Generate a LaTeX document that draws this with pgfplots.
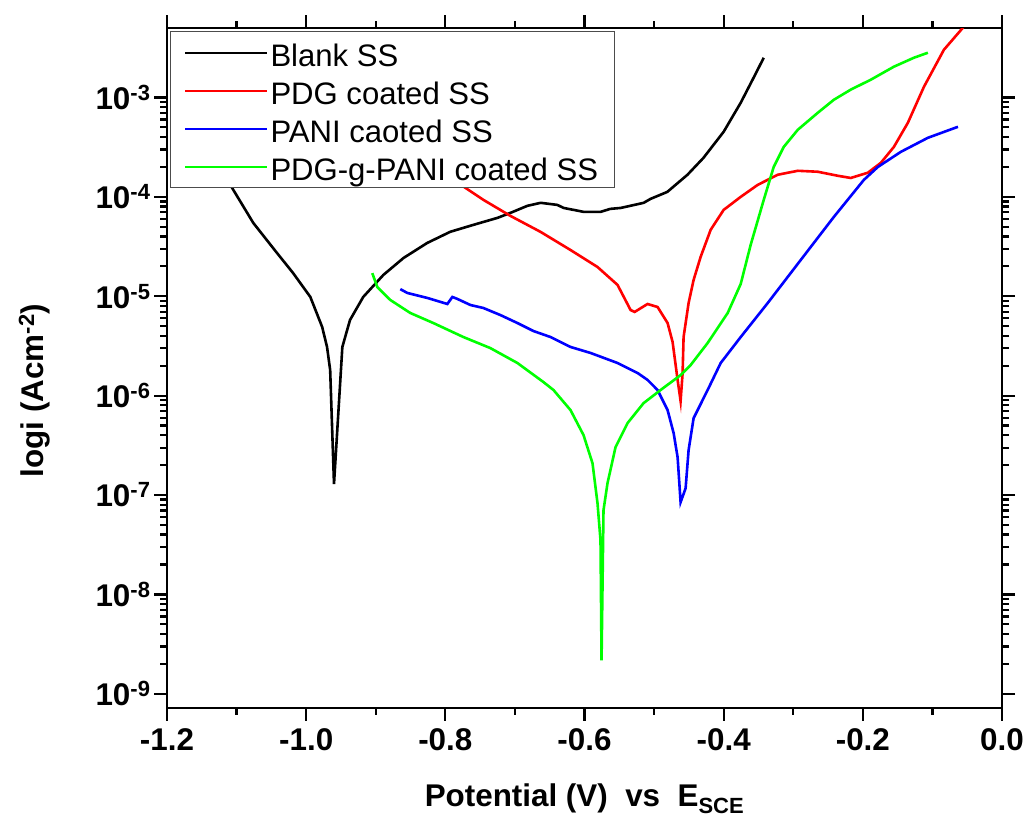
\documentclass[border=0pt]{standalone}
\usepackage{pgfplots}
\pgfplotsset{compat=1.18}
\usepackage{fontspec}
\setmainfont{Liberation Sans}
\begin{document}
\begin{tikzpicture}
\begin{axis}[
  scale only axis, width=835bp, height=680bp,
  xmin=-1.2, xmax=0, ymode=log, ymin=7.2e-10, ymax=5e-3,
  xtick={-1.2,-1.0,-0.8,-0.6,-0.4,-0.2,0},
  xticklabels={-1.2,-1.0,-0.8,-0.6,-0.4,-0.2,0.0},
  minor x tick num=1,
  ytick={1e-9,1e-8,1e-7,1e-6,1e-5,1e-4,1e-3},
  yticklabels={10\textsuperscript{-9},10\textsuperscript{-8},10\textsuperscript{-7},10\textsuperscript{-6},10\textsuperscript{-5},10\textsuperscript{-4},10\textsuperscript{-3}},
  tick align=outside, tick pos=both,
  major tick length=13bp, minor tick length=7bp,
  tick style={black, line width=2.2bp},
  axis line style={line width=2.6bp},
  tick label style={font=\fontsize{31.5}{36}\selectfont\bfseries},
  xticklabel style={yshift=-4bp},
  label style={font=\fontsize{31.5}{36}\selectfont\bfseries},
  xlabel={Potential (V)\ \ vs\ \ E\textsubscript{SCE}},
  xlabel style={at={(axis description cs:0.5,-0.145)}, anchor=base},
  ylabel={logi (Acm\textsuperscript{-2})},
  ylabel style={at={(axis description cs:-0.1485,0.467)}, anchor=base},
  legend cell align=left,
  legend style={at={(0.003,0.995)}, anchor=north west, draw=black!70, line width=0.8bp, fill=white,
    font=\fontsize{31.2}{36}\selectfont, inner xsep=14bp, inner ysep=2bp, row sep=0bp,
    nodes={inner sep=2bp, text height=31bp, text depth=3bp}},
  legend image code/.code={\path (0bp,0bp) -- (82bp,0bp); \draw[#1, line width=2.6bp] (6bp,0bp) -- (77bp,0bp);},
]
\addplot[black, line width=2.6bp] coordinates {
(-1.145,7.52e-4) (-1.1065,1.233e-4) (-1.076,5.47e-5) (-1.042,2.73e-5) (-1.019,1.72e-5)
(-0.994,9.84e-6) (-0.977,4.91e-6) (-0.970,3.09e-6) (-0.9655,1.81e-6) (-0.960,1.29e-7)
(-0.948,3.09e-6) (-0.937,5.77e-6) (-0.918,9.84e-6) (-0.889,1.64e-5) (-0.860,2.43e-5)
(-0.826,3.44e-5) (-0.793,4.45e-5) (-0.760,5.22e-5) (-0.725,6.15e-5) (-0.7065,6.90e-5)
(-0.682,8.13e-5) (-0.663,8.71e-5) (-0.639,8.30e-5) (-0.630,7.74e-5) (-0.601,7.06e-5)
(-0.577,7.06e-5) (-0.563,7.57e-5) (-0.548,7.74e-5) (-0.515,8.71e-5) (-0.505,9.55e-5)
(-0.481,1.122e-4) (-0.452,1.67e-4) (-0.429,2.47e-4) (-0.400,4.52e-4) (-0.3755,8.85e-4)
(-0.357,1.58e-3) (-0.3424,2.51e-3)
};
\addlegendentry{Blank SS}
\addplot[red, line width=2.6bp] coordinates {
(-0.850,2.97e-4) (-0.7712,1.233e-4) (-0.7453,9.33e-5) (-0.7065,6.44e-5) (-0.6633,4.45e-5)
(-0.6201,2.92e-5) (-0.5813,1.97e-5) (-0.5525,1.30e-5) (-0.5338,7.28e-6) (-0.528,6.95e-6)
(-0.5094,8.36e-6) (-0.495,7.80e-6) (-0.4806,5.38e-6) (-0.4734,3.47e-6) (-0.4662,1.44e-6)
(-0.4619,8.83e-7) (-0.459,1.69e-6) (-0.4576,3.89e-6) (-0.4504,8.55e-6) (-0.4432,1.46e-5)
(-0.4331,2.49e-5) (-0.4187,4.66e-5) (-0.400,7.40e-5) (-0.3755,1.0e-4) (-0.3511,1.32e-4)
(-0.3223,1.67e-4) (-0.2935,1.83e-4) (-0.2647,1.79e-4) (-0.2360,1.63e-4) (-0.2173,1.55e-4)
(-0.1928,1.75e-4) (-0.1741,2.20e-4) (-0.1554,3.18e-4) (-0.1353,5.56e-4) (-0.1122,1.28e-3)
(-0.0835,3.02e-3) (-0.0561,5.04e-3) (-0.050,5.8e-3)
};
\addlegendentry{PDG coated SS}
\addplot[blue, line width=2.6bp] coordinates {
(-0.8647,1.18e-5) (-0.8547,1.08e-5) (-0.8259,9.62e-6) (-0.7971,8.36e-6) (-0.7899,9.84e-6)
(-0.7827,9.40e-6) (-0.764,8.17e-6) (-0.7453,7.62e-6) (-0.7209,6.47e-6) (-0.6964,5.38e-6)
(-0.6734,4.47e-6) (-0.6489,3.89e-6) (-0.6201,3.09e-6) (-0.5914,2.69e-6) (-0.5525,2.13e-6)
(-0.5237,1.69e-6) (-0.5094,1.44e-6) (-0.495,1.14e-6) (-0.4806,7.16e-7) (-0.4719,4.20e-7)
(-0.4662,2.40e-7) (-0.4619,8.47e-8) (-0.4547,1.17e-7) (-0.4504,2.83e-7) (-0.4432,5.94e-7)
(-0.423,1.14e-6) (-0.4043,2.13e-6) (-0.3755,3.89e-6) (-0.3367,8.55e-6) (-0.2892,2.32e-5)
(-0.2417,6.28e-5) (-0.1986,1.48e-4) (-0.1784,2.00e-4) (-0.1453,2.84e-4) (-0.1065,3.93e-4)
(-0.0633,5.07e-4)
};
\addlegendentry{PANI caoted SS}
\addplot[green, line width=2.6bp] coordinates {
(-0.905,1.71e-5) (-0.8978,1.24e-5) (-0.8791,9.18e-6) (-0.8504,6.79e-6) (-0.8173,5.38e-6)
(-0.7741,3.89e-6) (-0.7353,3.01e-6) (-0.6964,2.13e-6) (-0.659,1.37e-6) (-0.6446,1.14e-6)
(-0.6201,7.16e-7) (-0.6014,4.01e-7) (-0.5885,2.09e-7) (-0.5813,8.28e-8) (-0.577,3.51e-8)
(-0.5755,2.17e-9) (-0.5727,7.03e-8) (-0.5669,1.32e-7) (-0.5554,3.03e-7) (-0.5381,5.30e-7)
(-0.5151,8.41e-7) (-0.4906,1.14e-6) (-0.4619,1.61e-6) (-0.4475,2.03e-6) (-0.423,3.39e-6)
(-0.3942,6.79e-6) (-0.3755,1.33e-5) (-0.3612,3.29e-5) (-0.3424,9.33e-5) (-0.3281,2.00e-4)
(-0.3137,3.18e-4) (-0.2935,4.73e-4) (-0.2647,7.02e-4) (-0.2417,9.48e-4) (-0.2173,1.20e-3)
(-0.1885,1.51e-3) (-0.1554,2.04e-3) (-0.1266,2.51e-3) (-0.1065,2.82e-3)
};
\addlegendentry{PDG-g-PANI coated SS}
\end{axis}
\path (current axis.south west) ++(-167bp,-113bp) coordinate (bbA);
\path (current axis.north east) ++(23bp,28bp) coordinate (bbB);
\pgfresetboundingbox
\path (bbA) rectangle (bbB);
\end{tikzpicture}
\end{document}
